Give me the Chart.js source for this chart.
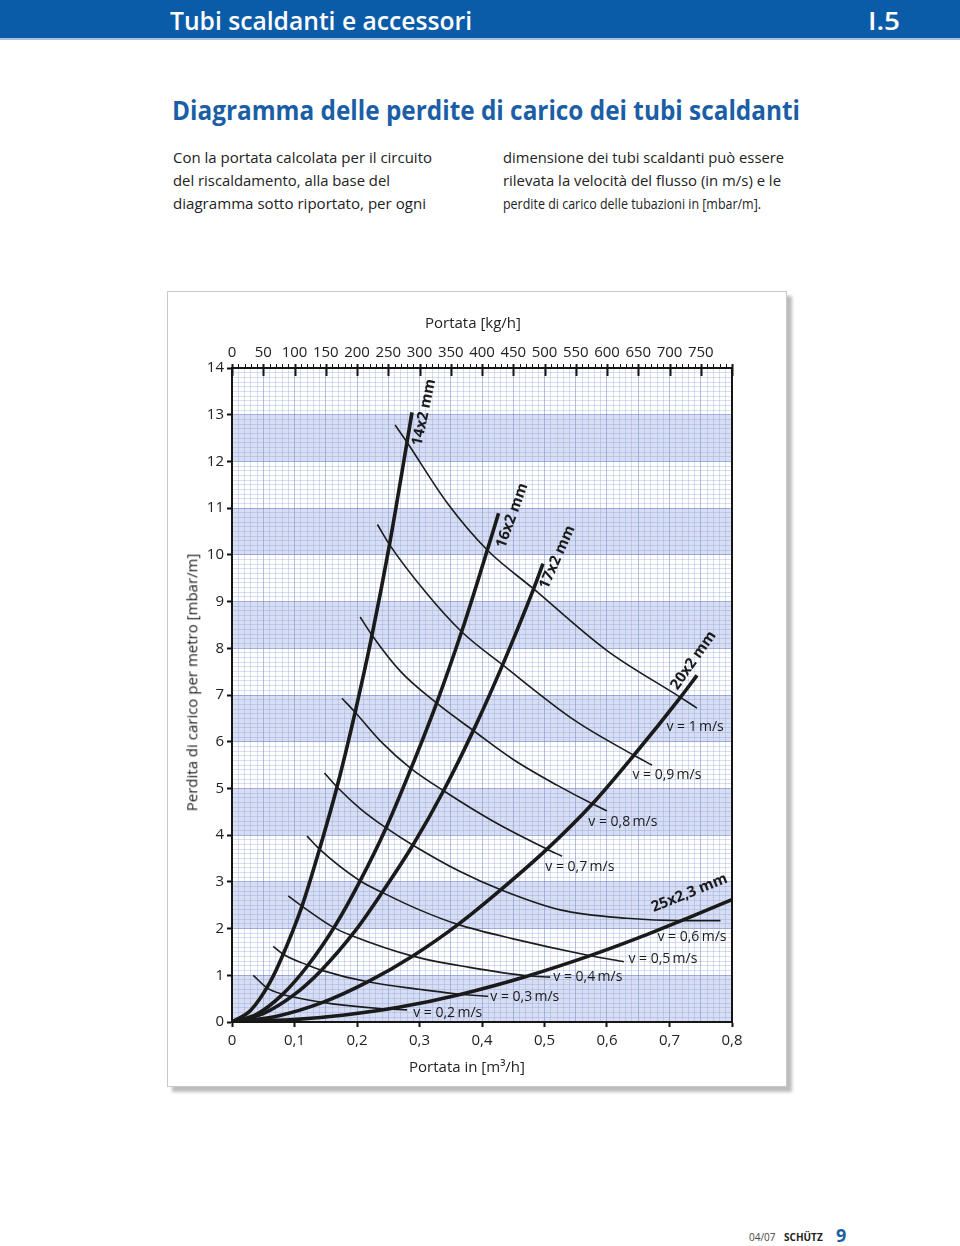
<!DOCTYPE html>
<html><head><meta charset="utf-8">
<script src="https://cdn.jsdelivr.net/npm/chart.js@4.4.0/dist/chart.umd.min.js"></script>
<style>
body{margin:0;width:960px;height:1246px;background:#fff;position:relative;font-family:'Open Sans',sans-serif;overflow:hidden}
.t{position:absolute;white-space:nowrap;display:inline-block;transform-origin:left center;line-height:1}
.bar{position:absolute;left:0;top:0;width:960px;height:38px;background:#0b5ca8;border-bottom:2px solid #a9c0dc}
.box{position:absolute;left:167px;top:291px;width:618px;height:794px;border:1px solid #c8c8c8;box-shadow:5px 5px 3px #bdbdbd;background:#fff}
canvas{position:absolute;left:168px;top:292px}
</style></head><body>
<div class="bar"></div>
<div class="t" data-w="302" style="left:170px;top:7px;font-size:26px;font-weight:600;color:#fff">Tubi scaldanti e accessori</div>
<div class="t" data-w="32" style="left:868px;top:7px;font-size:26px;font-weight:600;color:#fff">I.5</div>
<div class="t" data-w="628" style="left:172px;top:97px;font-size:26px;font-weight:700;color:#1b5ea6">Diagramma delle perdite di carico dei tubi scaldanti</div>
<div class="t" data-w="259" style="left:173px;top:150px;font-size:15px;color:#222">Con la portata calcolata per il circuito</div>
<div class="t" data-w="217" style="left:173px;top:173px;font-size:15px;color:#222">del riscaldamento, alla base del</div>
<div class="t" data-w="253" style="left:173px;top:196px;font-size:15px;color:#222">diagramma sotto riportato, per ogni</div>
<div class="t" data-w="281" style="left:503px;top:150px;font-size:15px;color:#222">dimensione dei tubi scaldanti può essere</div>
<div class="t" data-w="278" style="left:503px;top:173px;font-size:15px;color:#222">rilevata la velocità del flusso (in m/s) e le</div>
<div class="t" data-w="258" style="left:503px;top:196px;font-size:15px;color:#222">perdite di carico delle tubazioni in [mbar/m].</div>
<div class="box"></div>
<canvas id="c" width="618" height="794"></canvas>
<div class="t" id="tt" style="left:423px;top:313px;font-size:15px;color:#222">Portata [kg/h]</div>
<div class="t" id="bt" style="left:407px;top:1057px;font-size:15px;color:#222">Portata in [m³/h]</div>
<div class="t" id="yt" style="left:0;top:0;font-size:15px;color:#222;transform-origin:center center">Perdita di carico per metro [mbar/m]</div>
<div class="t" style="left:749px;top:1232px;font-size:10px;color:#444">04/07</div>
<div class="t" style="left:784px;top:1232px;font-size:10px;font-weight:700;color:#222">SCHÜTZ</div>
<div class="t" style="left:836px;top:1226px;font-size:18px;font-weight:700;color:#1b5ea6">9</div>
<script>
// ---- data (flow in m³/h, pressure loss in mbar/m) ----
const pipeNames = ['14x2 mm','16x2 mm','17x2 mm','20x2 mm','25x2,3 mm'];
const pipe14Q = [0, 0.03, 0.06, 0.08, 0.112, 0.14, 0.168, 0.197, 0.224, 0.252, 0.280, 0.288];
const pipe14P = [0, 0.25, 0.83, 1.39, 2.48, 3.70, 5.03, 6.63, 8.28, 10.22, 12.41, 13.05];
const pipe16Q = [0, 0.04, 0.08, 0.122, 0.165, 0.205, 0.247, 0.285, 0.328, 0.368, 0.4025, 0.4265];
const pipe16P = [0, 0.17, 0.58, 1.22, 2.06, 3.02, 4.17, 5.38, 6.85, 8.38, 9.84, 10.89];
const pipe17Q = [0, 0.05, 0.10, 0.143, 0.197, 0.240, 0.290, 0.3385, 0.390, 0.4335, 0.4826, 0.4976];
const pipe17P = [0, 0.18, 0.59, 1.11, 1.95, 2.77, 3.80, 4.95, 6.35, 7.66, 9.27, 9.81];
const pipe20Q = [0, 0.07, 0.145, 0.217, 0.290, 0.362, 0.4265, 0.504, 0.576, 0.643, 0.7175, 0.744];
const pipe20P = [0, 0.12, 0.42, 0.86, 1.42, 2.09, 2.79, 3.70, 4.66, 5.71, 6.95, 7.42];
const pipe25Q = [0, 0.098, 0.18, 0.269, 0.365, 0.472, 0.573, 0.65, 0.728, 0.80];
const pipe25P = [0, 0.05, 0.15, 0.32, 0.59, 0.98, 1.42, 1.80, 2.22, 2.62];

const velNames = ['v = 1\u2009m/s','v = 0,9\u2009m/s','v = 0,8\u2009m/s','v = 0,7\u2009m/s','v = 0,6\u2009m/s','v = 0,5\u2009m/s','v = 0,4\u2009m/s','v = 0,3\u2009m/s','v = 0,2\u2009m/s'];
const v10Q = [0.261, 0.280, 0.345, 0.408, 0.4826, 0.600, 0.7175, 0.744];
const v10P = [12.78, 12.41, 11.10, 10.11, 9.27, 7.95, 6.95, 6.72];
const v09Q = [0.2327, 0.252, 0.310, 0.367, 0.4335, 0.549, 0.643, 0.672];
const v09P = [10.65, 10.22, 9.20, 8.36, 7.64, 6.45, 5.71, 5.50];
const v08Q = [0.205, 0.224, 0.270, 0.327, 0.386, 0.450, 0.520, 0.578, 0.600];
const v08P = [8.67, 8.28, 7.50, 6.83, 6.24, 5.62, 5.07, 4.66, 4.52];
const v07Q = [0.176, 0.197, 0.240, 0.286, 0.3385, 0.420, 0.504, 0.528];
const v07P = [6.93, 6.63, 5.98, 5.43, 4.95, 4.28, 3.70, 3.55];
const v06Q = [0.148, 0.168, 0.205, 0.246, 0.289, 0.365, 0.430, 0.525, 0.632, 0.7175, 0.7815];
const v06P = [5.33, 5.03, 4.57, 4.16, 3.79, 3.22, 2.83, 2.40, 2.22, 2.17, 2.17];
const v05Q = [0.120, 0.140, 0.204, 0.241, 0.300, 0.361, 0.450, 0.573, 0.627];
const v05P = [3.98, 3.70, 3.03, 2.77, 2.40, 2.09, 1.78, 1.42, 1.29];
const v04Q = [0.090, 0.112, 0.163, 0.193, 0.289, 0.380, 0.472, 0.509];
const v04P = [2.70, 2.48, 2.02, 1.84, 1.41, 1.17, 0.99, 0.96];
const v03Q = [0.066, 0.082, 0.1225, 0.145, 0.217, 0.300, 0.354, 0.410];
const v03P = [1.62, 1.45, 1.21, 1.10, 0.86, 0.70, 0.61, 0.55];
const v02Q = [0.034, 0.056, 0.0815, 0.0965, 0.1445, 0.236, 0.280];
const v02P = [1.00, 0.73, 0.59, 0.54, 0.42, 0.29, 0.26];

// label anchors (data units)
const pipeLabelQ = [0.3075, 0.4484, 0.5205, 0.7383, 0.7319];
const pipeLabelP = [13.05, 10.84, 9.95, 7.74, 2.76];
const pipeLabelAngle = [-78, -70, -66, -55, -22];
const velLabelQ = [0.695, 0.6406, 0.5701, 0.5013, 0.6807, 0.6342, 0.5141, 0.4132, 0.2899];
const velLabelP = [6.31, 5.28, 4.28, 3.32, 1.82, 1.35, 0.96, 0.53, 0.19];

const xTicksM3 = [0,0.1,0.2,0.3,0.4,0.5,0.6,0.7,0.8];
const kgTicks = [0,50,100,150,200,250,300,350,400,450,500,550,600,650,700,750];
const bandStarts = [0,2,4,6,8,10,12];

// ---- text fitting ----
document.querySelectorAll('[data-w]').forEach(el=>{
  const w = el.getBoundingClientRect().width;
  el.style.transform = 'scaleX(' + (+el.dataset.w / w) + ')';
});
function centerAt(id, cx, cy, rot){
  const el=document.getElementById(id); const r=el.getBoundingClientRect();
  el.style.left=(cx-r.width/2)+'px'; el.style.top=(cy-r.height/2)+'px';
  if(rot) el.style.transform='rotate('+rot+'deg)';
}
centerAt('tt',473,322); centerAt('bt',467,1066); centerAt('yt',192,682,-90);

const pipes = [[pipe14Q,pipe14P],[pipe16Q,pipe16P],[pipe17Q,pipe17P],[pipe20Q,pipe20P],[pipe25Q,pipe25P]];
const vels = [[v10Q,v10P],[v09Q,v09P],[v08Q,v08P],[v07Q,v07P],[v06Q,v06P],[v05Q,v05P],[v04Q,v04P],[v03Q,v03P],[v02Q,v02P]];
const toPts = (Q,P)=>Q.map((q,i)=>({x:q,y:P[i]}));
const datasets = [];
vels.forEach((v,i)=>datasets.push({label:velNames[i],data:toPts(v[0],v[1]),borderColor:'#1c1c1c',borderWidth:1.6,pointRadius:0,cubicInterpolationMode:'monotone',fill:false}));
pipes.forEach((p,i)=>datasets.push({label:pipeNames[i],data:toPts(p[0],p[1]),borderColor:'#1a1a1a',borderWidth:3.6,pointRadius:0,cubicInterpolationMode:'monotone',fill:false}));

const FONT = "'Open Sans', sans-serif";
const bandPlugin = {
  id:'bands',
  beforeDraw(chart){
    const {ctx, chartArea:a, scales:{y}} = chart;
    ctx.save();
    ctx.fillStyle='#fff'; ctx.fillRect(a.left,a.top,a.right-a.left,a.bottom-a.top);
    ctx.fillStyle='#d7def3';
    bandStarts.forEach(b=>{
      const y1=y.getPixelForValue(b+1), y0=y.getPixelForValue(b);
      ctx.fillRect(a.left,y1,a.right-a.left,y0-y1);
    });
    ctx.restore();
  },
  afterDatasetsDraw(chart){
    const {ctx, chartArea:a, scales:{x,y,x2}} = chart;
    ctx.save();
    ctx.strokeStyle='#151515'; ctx.lineWidth=2;
    ctx.strokeRect(a.left,a.top,a.right-a.left,a.bottom-a.top);
    for(let kg=0;kg<=800;kg+=10){
      const px=Math.round(x2.getPixelForValue(kg))+0.5;
      ctx.beginPath();
      if(kg%50===0){ctx.lineWidth=2;ctx.moveTo(px,a.top-4);ctx.lineTo(px,a.top+8);}
      else {ctx.lineWidth=1;ctx.moveTo(px,a.top-4);ctx.lineTo(px,a.top);}
      ctx.stroke();
    }
    ctx.fillStyle='#1a1a1a';
    ctx.font='bold 15px '+FONT; ctx.textAlign='center'; ctx.textBaseline='middle';
    pipeNames.forEach((n,i)=>{
      ctx.save();
      ctx.translate(x.getPixelForValue(pipeLabelQ[i]), y.getPixelForValue(pipeLabelP[i]));
      ctx.rotate(pipeLabelAngle[i]*Math.PI/180);
      ctx.fillText(n,0,0);
      ctx.restore();
    });
    ctx.font='14px '+FONT; ctx.textAlign='left';
    velNames.forEach((n,i)=>{
      ctx.fillText(n, x.getPixelForValue(velLabelQ[i]), y.getPixelForValue(velLabelP[i]));
    });
    ctx.restore();
  }
};

const k2 = v=>Math.round(v*100), k1 = v=>Math.round(v*10);
new Chart(document.getElementById('c'),{
  type:'line',
  data:{datasets},
  options:{
    responsive:false, animation:false, events:[],
    layout:{padding:{left:0,top:0,right:54,bottom:0}},
    plugins:{legend:{display:false},tooltip:{enabled:false}},
    scales:{
      x:{type:'linear',position:'bottom',min:0,max:0.8,
        afterFit(s){s.height=64;},
        ticks:{stepSize:0.01,autoSkip:false,maxRotation:0,padding:5,color:'#222',font:{family:FONT,size:15},
          callback:v=>{const k=k2(v); if(k%10) return ''; return xTicksM3.includes(k/100)? (k===0?'0':(k/100).toFixed(1).replace('.',',')) : '';}},
        grid:{color:c=>{const k=k2(c.tick.value); return k%5===0?'rgba(120,140,200,0.55)':'rgba(140,160,215,0.35)';},
          lineWidth:1,tickLength:5,tickColor:c=>k2(c.tick.value)%10===0?'#111':'rgba(0,0,0,0)',tickWidth:2},
        border:{display:true,color:'#151515',width:2}},
      x2:{type:'linear',position:'top',min:0,max:800,
        afterFit(s){s.height=76;},
        ticks:{stepSize:50,autoSkip:false,maxRotation:0,padding:-2,color:'#222',font:{family:FONT,size:15},
          callback:v=>kgTicks.includes(v)?String(v):''},
        grid:{display:false},
        border:{display:false}},
      y:{type:'linear',min:0,max:14,
        afterFit(s){s.width=64;},
        ticks:{stepSize:0.1,autoSkip:false,padding:3,color:'#222',font:{family:FONT,size:15},
          callback:v=>{const k=k1(v); return k%10===0?String(k/10):'';}},
        grid:{color:c=>{const k=k1(c.tick.value); return k%10===0?'rgba(110,130,195,0.6)':'rgba(140,160,215,0.35)';},
          lineWidth:1,tickLength:5,tickColor:c=>k1(c.tick.value)%10===0?'#111':'rgba(0,0,0,0)',tickWidth:2},
        border:{display:true,color:'#151515',width:2}}
    }
  },
  plugins:[bandPlugin]
});
</script>
</body></html>
